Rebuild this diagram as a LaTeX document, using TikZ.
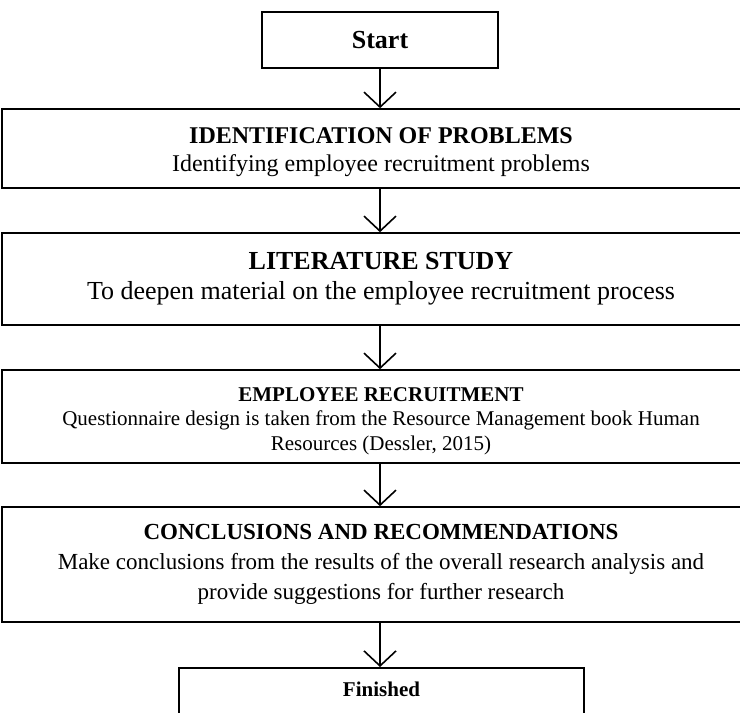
\documentclass[tikz,border=0pt]{standalone}
\usepackage{fontspec}
\setmainfont{Liberation Serif}
\usetikzlibrary{arrows.meta}
\tikzset{
  flowbox/.style={draw, line width=1.6pt, align=center, inner sep=0pt},
  widebox/.style={flowbox, minimum width=758pt},
  arw/.style={line width=1.6pt, -{Straight Barb[length=15pt, width=32pt, line width=1.6pt]}}
}
\begin{document}
\begin{tikzpicture}[x=1pt, y=-1pt]
  \useasboundingbox (0,0) rectangle (740,713);
  \clip (0,0) rectangle (740,713);
  \node[flowbox, minimum width=236pt, minimum height=56pt, font=\fontsize{26}{30}\selectfont\bfseries] (start) at (380,40) {Start};
  \node[widebox, minimum height=79pt, font=\fontsize{24}{28}\selectfont] (ident) at (381,148.5) {\rule{0pt}{24pt}\textbf{IDENTIFICATION OF PROBLEMS}\\Identifying employee recruitment problems};
  \node[widebox, minimum height=92pt, font=\fontsize{26}{30}\selectfont] (lit) at (381,279) {\textbf{LITERATURE STUDY}\\To deepen material on the employee recruitment process};
  \node[widebox, minimum height=93pt, font=\fontsize{21}{24.5}\selectfont] (recruit) at (381,416.5) {\rule{0pt}{23pt}\textbf{EMPLOYEE RECRUITMENT}\\Questionnaire design is taken from the Resource Management book Human\\Resources (Dessler, 2015)};
  \node[widebox, minimum height=115pt, font=\fontsize{23}{30}\selectfont] (concl) at (381,564.5) {\textbf{CONCLUSIONS AND RECOMMENDATIONS}\\Make conclusions from the results of the overall research analysis and\\provide suggestions for further research};
  \node[flowbox, anchor=north, minimum width=405pt, text height=29pt, text depth=30pt, font=\fontsize{21}{24}\selectfont\bfseries] (fin) at (381.5,667) {Finished};

  \draw[arw] (start.south) -- (ident.north -| start);
  \draw[arw] (ident.south -| start) -- (lit.north -| start);
  \draw[arw] (lit.south -| start) -- (recruit.north -| start);
  \draw[arw] (recruit.south -| start) -- (concl.north -| start);
  \draw[arw] (concl.south -| start) -- (fin.north -| start);
\end{tikzpicture}
\end{document}
